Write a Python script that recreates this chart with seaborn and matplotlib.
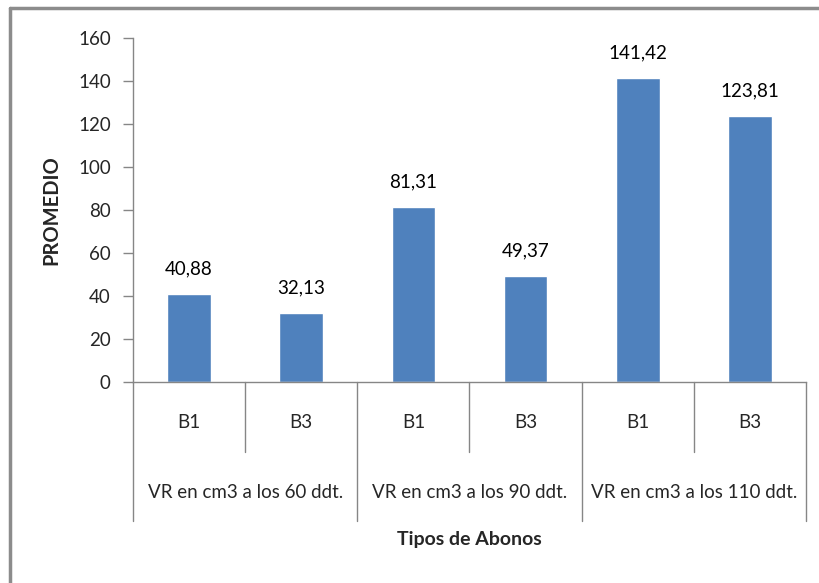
import matplotlib
matplotlib.use("Agg")
import matplotlib.pyplot as plt
from matplotlib.lines import Line2D
from matplotlib.transforms import blended_transform_factory
import seaborn as sns
import pandas as pd

# Data
abonos = ["B1", "B3", "B1", "B3", "B1", "B3"]
grupos = ["VR en cm3 a los 60 ddt.", "VR en cm3 a los 90 ddt.", "VR en cm3 a los 110 ddt."]
promedio = [40.88, 32.13, 81.31, 49.37, 141.42, 123.81]
y_ticks = [0, 20, 40, 60, 80, 100, 120, 140, 160]

sns.set_theme(style="white")
plt.rcParams["font.family"] = ["Lato", "DejaVu Sans"]

df = pd.DataFrame({"pos": [str(i) for i in range(len(promedio))], "valor": promedio})

fig = plt.figure(figsize=(8.19, 5.83), dpi=100)
ax = fig.add_axes([133 / 819, 1 - 382 / 583, (806 - 133) / 819, (382 - 38) / 583])

sns.barplot(data=df, x="pos", y="valor", color="#4F81BD", saturation=1,
            width=0.39, ax=ax, errorbar=None)

labels = [f"{v:.2f}".replace(".", ",") for v in promedio]
ax.bar_label(ax.containers[0], labels=labels, padding=12, fontsize=13.5, color="black")

ax.set_xlim(-0.5, len(promedio) - 0.5)
ax.set_ylim(0, 160)
ax.set_yticks(y_ticks)
ax.set_yticklabels([str(t) for t in y_ticks], fontsize=13.5)
ax.tick_params(axis="y", left=True, length=7, width=1, color="#868686", pad=9)
ax.set_xticks([])
ax.set_xlabel("")
ax.set_ylabel("PROMEDIO", fontsize=14.5, fontweight="bold", labelpad=12)

for side in ["top", "right"]:
    ax.spines[side].set_visible(False)
for side in ["left", "bottom"]:
    ax.spines[side].set_color("#868686")
    ax.spines[side].set_linewidth(1)

# Multi-level category axis below the plot
tr = blended_transform_factory(ax.transData, fig.transFigure)
def fy(py):
    return 1 - py / 583

for i, lab in enumerate(abonos):
    ax.text(i, fy(423), lab, transform=tr, ha="center", va="center", fontsize=13.5)

for g, lab in enumerate(grupos):
    ax.text(2 * g + 0.5, fy(493), lab, transform=tr, ha="center", va="center", fontsize=13.5)

for i in range(len(abonos) + 1):
    x = i - 0.5
    bottom = 521 if i % 2 == 0 else 452
    ax.add_line(Line2D([x, x], [fy(382), fy(bottom)], transform=tr, color="#868686",
                       lw=1, clip_on=False))

fig.text(0.5 * (133 + 806) / 819, fy(540), "Tipos de Abonos", ha="center", va="center",
         fontsize=14, fontweight="bold")

# Chart area frame
fig.add_artist(Line2D([10 / 819, 10 / 819], [fy(8), 0], transform=fig.transFigure,
                      color="#8c8c8c", lw=2.5))
fig.add_artist(Line2D([10 / 819, 1], [fy(8), fy(8)], transform=fig.transFigure,
                      color="#8c8c8c", lw=2.5))

fig.savefig("out.png", dpi=100)
